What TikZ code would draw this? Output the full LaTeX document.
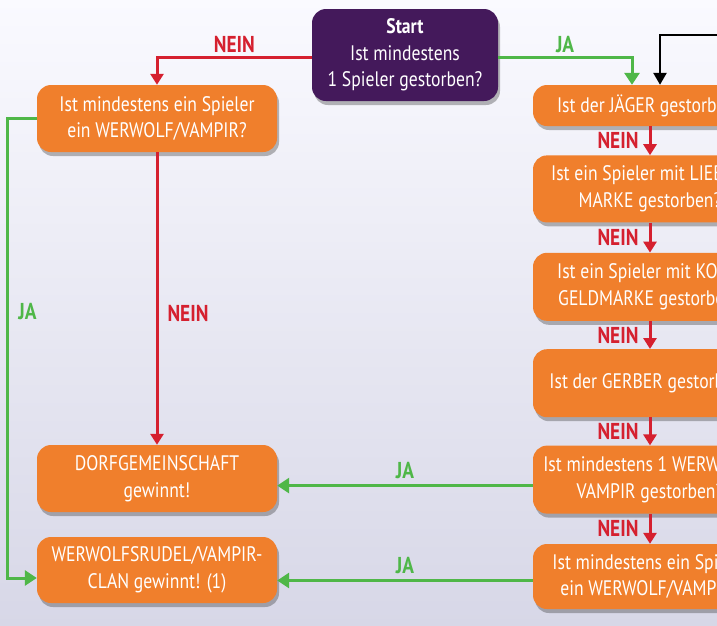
\documentclass[tikz,border=0pt]{standalone}
\usepackage{fontspec}
\setmainfont[FakeStretch=0.84]{PT Sans}
\usepackage{xcolor}
\usetikzlibrary{arrows.meta,positioning,shadows}
\definecolor{boxorange}{HTML}{F07F2C}
\definecolor{startpurple}{HTML}{44195B}
\definecolor{neinred}{HTML}{D5202F}
\definecolor{jagreen}{HTML}{4FB748}
\tikzset{
  qbox/.style={fill=boxorange, rounded corners=14pt, text=white, align=center, font=\fontsize{21}{26.5}\selectfont, inner sep=2pt, minimum width=240pt, minimum height=67pt, drop shadow={shadow xshift=2pt, shadow yshift=-4pt, opacity=0.35, fill=black!80}},
  rbox/.style={qbox, minimum width=234pt},
  startbox/.style={qbox, fill=startpurple, minimum width=186pt, minimum height=92pt},
  nein/.style={-{Triangle[length=11pt,width=13pt]}, line width=3pt, draw=neinred},
  ja/.style={-{Triangle[length=12pt,width=15pt]}, line width=3pt, draw=jagreen},
  back/.style={-{Triangle[length=12pt,width=13pt]}, line width=2.6pt, draw=black},
  nlbl/.style={text=neinred, font=\bfseries\fontsize{23}{23}\selectfont, inner sep=1pt},
  jlbl/.style={text=jagreen, font=\bfseries\fontsize{23}{23}\selectfont, inner sep=1pt}
}
\begin{document}
\begin{tikzpicture}[x=1pt,y=-1pt]
\clip (0,0) rectangle (717,625);
\shade[top color=white!80!blue!10, bottom color=blue!25!gray!25] (0,0) rectangle (717,625);

% start and left column
\node[startbox] (start) at (405,55) {\textbf{Start}\\Ist mindestens\\1 Spieler gestorben?};
\node[qbox] (anywolf) at (157,118.5) {Ist mindestens ein Spieler\\ein WERWOLF/VAMPIR?};
\node[qbox] (dorf) at (157,478.5) {DORFGEMEINSCHAFT\\gewinnt!};
\node[qbox, minimum height=66pt] (rudel) at (157,570) {WERWOLFSRUDEL/VAMPIR-\\CLAN gewinnt! (1)};

% right column
\node[rbox, minimum height=41pt] (jaeger) at (650,105.5) {Ist der JÄGER gestorben?};
\node[rbox, below=29pt of jaeger] (liebe) {Ist ein Spieler mit LIEBES-\\MARKE gestorben?};
\node[rbox, minimum height=68pt, below=30pt of liebe] (kopf) {Ist ein Spieler mit KOPF-\\GELDMARKE gestorben?};
\node[rbox, minimum height=68pt, below=28pt of kopf] (gerber) {Ist der GERBER gestorben?};
\node[rbox, minimum height=68pt, below=28pt of gerber] (wolfdead) {Ist mindestens 1 WERWOLF/\\VAMPIR gestorben?};
\node[rbox, minimum height=65pt, below=30pt of wolfdead] (wolfleft) {Ist mindestens ein Spieler\\ein WERWOLF/VAMPIR?};
\coordinate (loopin) at (730,35);

\draw[nein] ([yshift=-2pt]start.west) -| (anywolf.north) node[pos=0.25, above=2pt, nlbl] {NEIN};
\draw[ja] ([yshift=-2pt]start.east) -| ([xshift=-18pt]jaeger.north) node[pos=0.25, above=2pt, jlbl] {JA};
\draw[back] (loopin) -| ([xshift=10pt]jaeger.north);

\draw[nein] (anywolf) -- (dorf) node[pos=0.55, right=8pt, nlbl] {NEIN};
\draw[ja] (anywolf.west) -- ++(-29,0) |- ([yshift=-8pt]rudel.west) node[pos=0.21, right=8pt, jlbl] {JA};

\draw[nein] (jaeger) -- (liebe) node[midway, left=9pt, nlbl] {NEIN};
\draw[nein] (liebe) -- (kopf) node[midway, left=9pt, nlbl] {NEIN};
\draw[nein] (kopf) -- (gerber) node[midway, left=9pt, nlbl] {NEIN};
\draw[nein] (gerber) -- (wolfdead) node[midway, left=9pt, nlbl] {NEIN};
\draw[nein] (wolfdead) -- (wolfleft) node[midway, left=9pt, nlbl] {NEIN};

\draw[ja] ([yshift=-6pt]wolfdead.west) -- ([yshift=-6pt]wolfdead.west -| dorf.east) node[midway, above=4pt, jlbl] {JA};
\draw[ja] ([yshift=-4pt]wolfleft.west) -- ([yshift=-4pt]wolfleft.west -| rudel.east) node[midway, above=4pt, jlbl] {JA};
\end{tikzpicture}
\end{document}
